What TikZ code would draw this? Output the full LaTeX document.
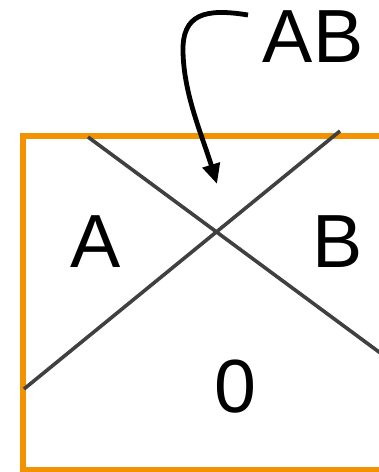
\documentclass[tikz,border=0pt]{standalone}
\usepackage{fontspec}
\setmainfont{Liberation Sans}
\usetikzlibrary{arrows.meta}

\definecolor{frameorange}{RGB}{243,146,0}
\definecolor{cutgray}{RGB}{64,64,64}

\begin{document}
\begin{tikzpicture}[
      x=0.75pt, y=-0.75pt,
      region/.style={draw=frameorange, line width=4.5pt},
      cut/.style={draw=cutgray, line width=2.7pt},
      setname/.style={inner sep=0pt, anchor=base, font=\fontsize{56.5}{60}\selectfont},
      pointer/.style={-{Triangle[length=15pt, width=13pt]}, line width=3.6pt}
    ]
    \useasboundingbox (0,0) rectangle (379,472);
    \clip (0,0) rectangle (379,472);

    % outer set and the two cuts
    \draw[region] (22.5,135.5) rectangle (400,470);
    \coordinate (c1s) at (88,137);
    \coordinate (c1e) at (400,367.5);
    \coordinate (c2s) at (24,389);
    \coordinate (c2e) at (340,131);
    \draw[cut] (c1s) -- (c1e);
    \draw[cut] (c2s) -- (c2e);

    % labels
    \node[setname] (a) at (96,267) {A};
    \node[setname] (b) at (337.5,267) {B};
    \node[setname] (zero) at (235,412) {0};
    \node[setname] (ab) at (313,62) {AB};

    % pointer to the overlap
    \coordinate (tail) at (248,15);
    \coordinate (head) at (217,184);
    \draw[pointer] (tail) .. controls (205,8) and (182,14) .. (183,52)
      .. controls (184,95) and (202,135) .. (head);
  \end{tikzpicture}
\end{document}
